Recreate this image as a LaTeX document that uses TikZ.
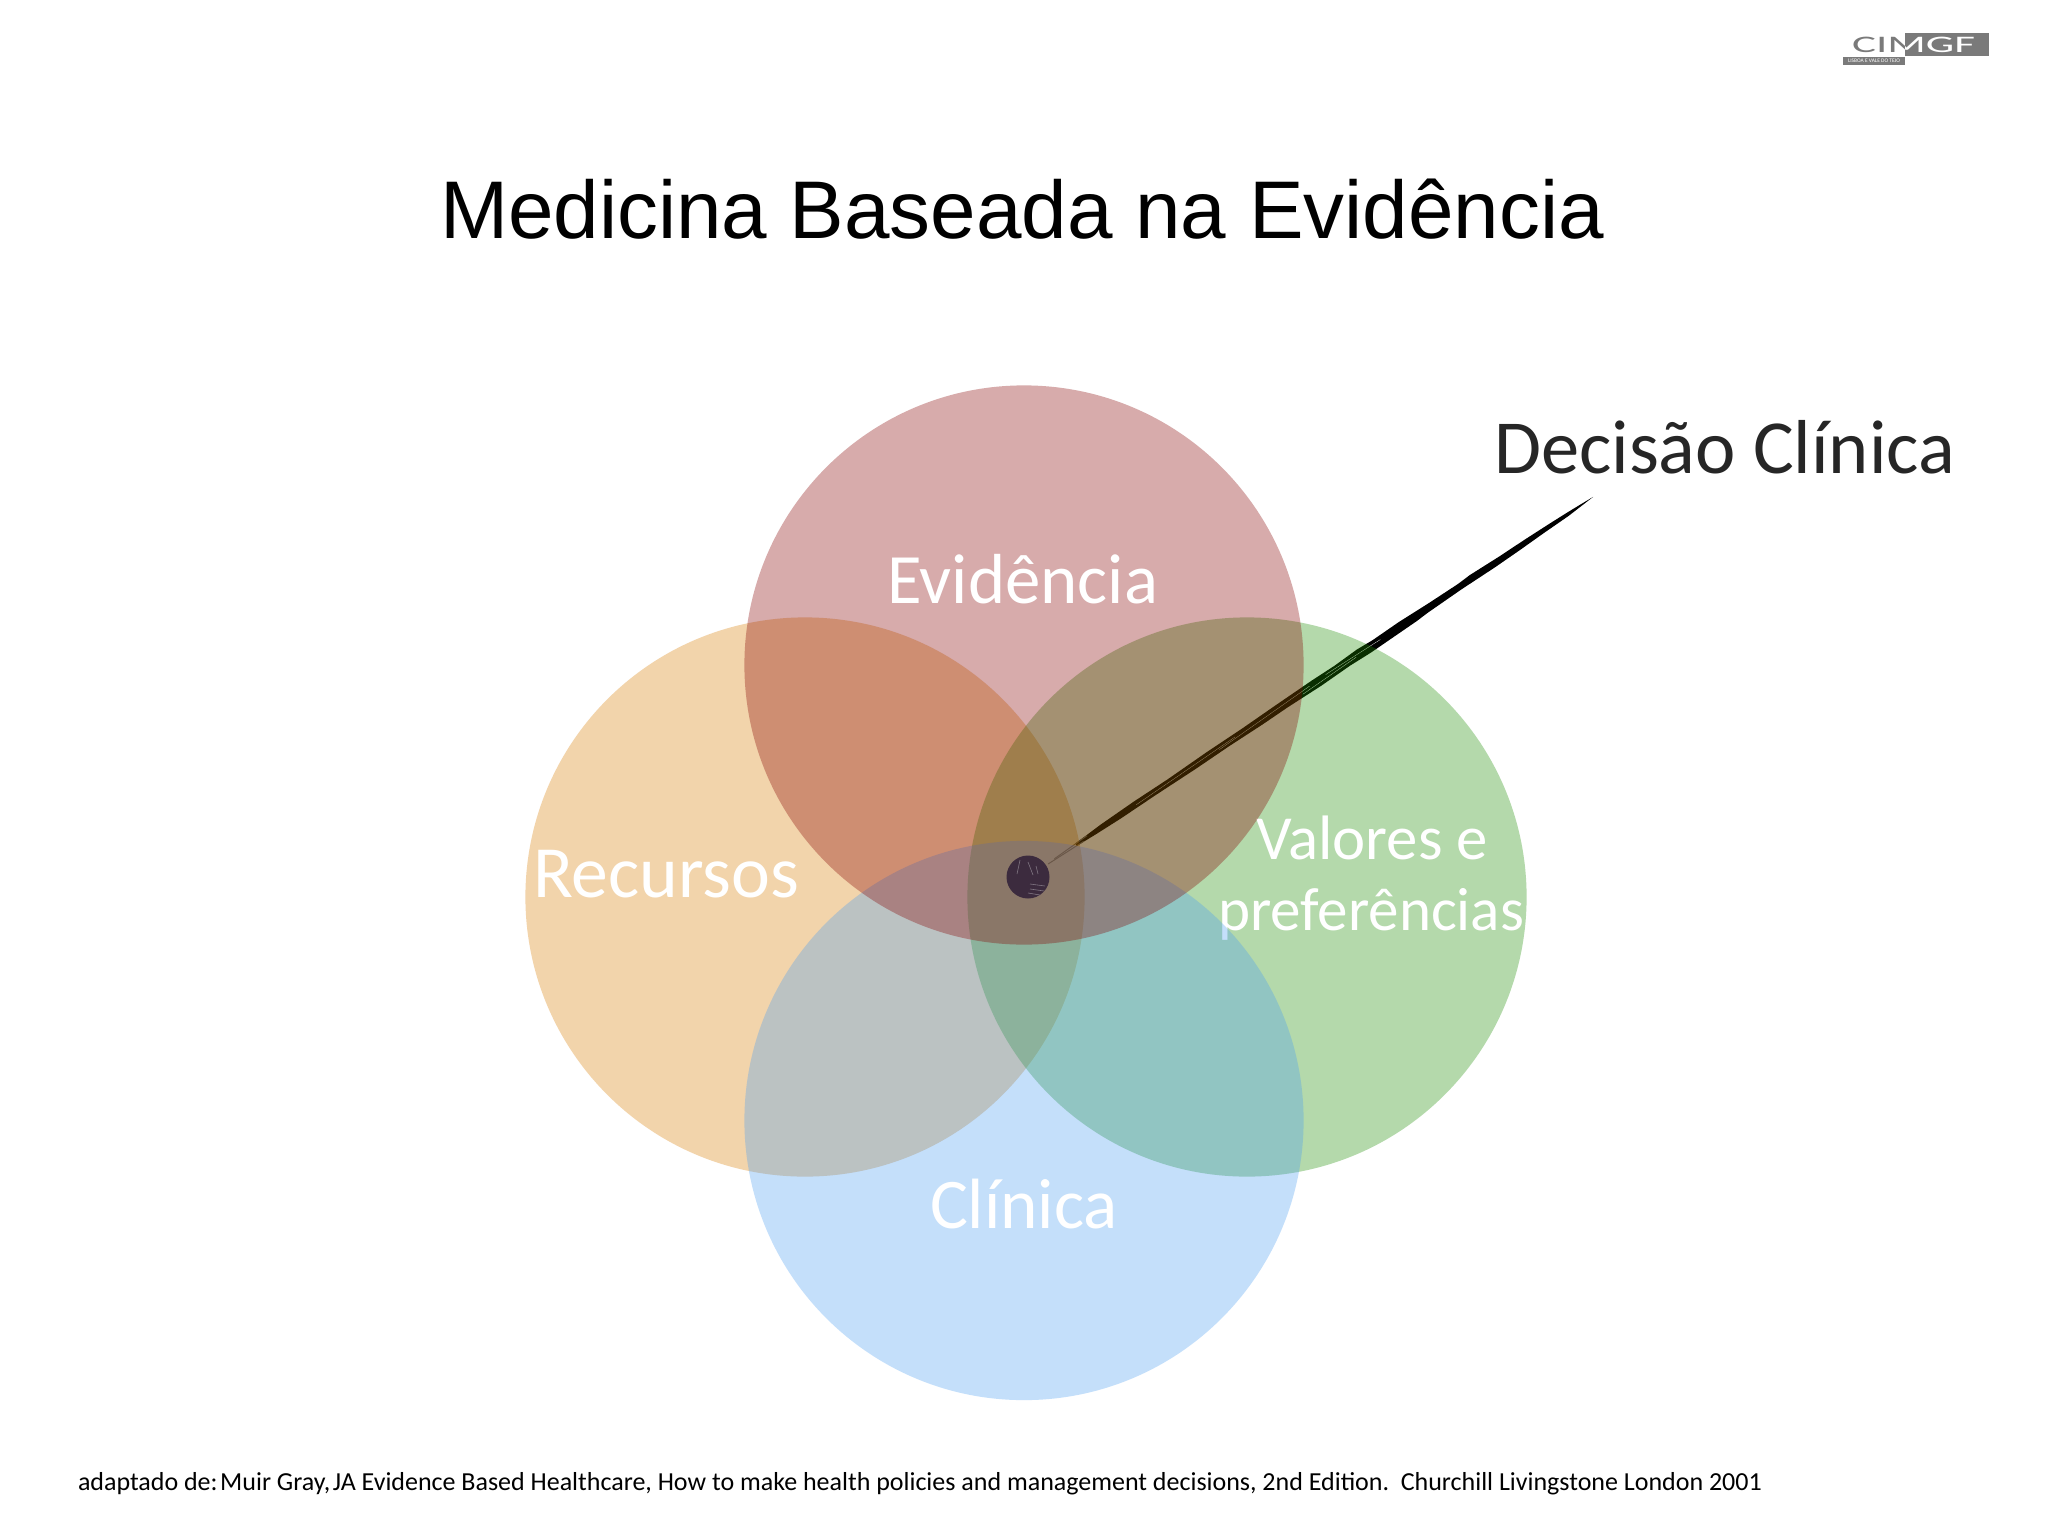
\documentclass[tikz,border=0pt]{standalone}
\usepackage{fontspec}
\usepackage{graphicx}
\setmainfont{Carlito}
\newfontfamily\titlefont{Liberation Sans}
\newcommand\fitw[2]{\resizebox{\dimexpr #1pt/2\relax}{!}{#2}}
\definecolor{cred}{HTML}{860000}
\definecolor{corange}{HTML}{D87D00}
\definecolor{cgreen}{HTML}{1E8E00}
\definecolor{cblue}{HTML}{4C9EF2}
\definecolor{logogray}{HTML}{7A7A7A}
\definecolor{dotcol}{HTML}{3C2B3E}
\tikzset{
  venn/.style={circle,minimum size=279.6pt,inner sep=0pt,fill opacity=0.33,draw=none},
  lab/.style={anchor=base west,inner sep=0pt,outer sep=0pt},
  inside/.style={lab,text=white},
  streak/.style={white!35!dotcol,line width=0.3pt},
}
\begin{document}
\begin{tikzpicture}[x=0.5pt,y=-0.5pt]
\useasboundingbox (0,0) rectangle (2048,1536);
\fill[white] (0,0) rectangle (2048,1536);

\coordinate (dotc) at (1028,877);
\coordinate (tip) at (1593,497);
% brush stroke lies under the translucent circles
\begin{scope}[shift={(dotc)},rotate=33.9]
  \fill[black] (58,-1.4) -- (90,-3) -- (130,-3.6) -- (170,-3.2) -- (220,-4) -- (260,-3.8) -- (300,-4.4)
     -- (345,-4.8) -- (372,-4.4) -- (400,-5.4) -- (418,-4.4) -- (450,-4.8) -- (485,-3.8) -- (520,-3.4)
     -- (535,-4.2) -- (570,-3.2) -- (600,-3) -- (630,-2.4) -- (650,-1.8) -- (668,-1) -- (681,-0.3)
     -- (650,1.8) -- (620,2.2) -- (590,3) -- (560,3.4) -- (520,3) -- (480,3.6) -- (465,4.4) -- (410,5)
     -- (385,4.2) -- (350,4.8) -- (310,4) -- (280,4.2) -- (240,3.6) -- (200,3.8) -- (150,3.2)
     -- (110,3.2) -- (80,2.4) -- (58,1.4) -- cycle;
  \draw[black!60,line width=0.5pt] (24,0.4) -- (66,1.4);
  \draw[black!60,line width=0.5pt] (32,-0.4) -- (72,-1.4);
  \draw[white,line width=0.12pt] (130,0.4) -- (250,-0.8);
  \draw[white,line width=0.12pt] (230,1) -- (340,-1.4);
  \draw[white,line width=0.12pt] (330,1.6) -- (395,0.6);
  \draw[white,line width=0.12pt] (360,-2) -- (425,-0.6);
\end{scope}

% circles
\node[venn,fill=corange] (recursos) at (805,897) {};
\node[venn,fill=cgreen] (valores) at (1247,897) {};
\node[inside] (tvalores) at (1256,859) {\fitw{232}{Valores e}};
\node[inside] (tpref) at (1218,930) {\fitw{306}{preferências}};
\node[venn,fill=cblue] (clinica) at (1024,1120.5) {};
\node[venn,fill=cred] (evidencia) at (1024,665) {};

% dot
\node[circle,minimum size=21.5pt,inner sep=0pt,fill=dotcol] (dot) at (dotc) {};
\draw[streak] (1020,860) -- (1017,874);
\draw[streak] (1028,862) -- (1033,875);
\draw[streak] (1036,866) -- (1038,874);
\draw[streak] (1030,884) -- (1045,886);
\draw[streak] (1030,889) -- (1044,891);
\draw[streak] (1028,893) -- (1040,895);

% labels
\node[lab] (title) at (440,238) {\fitw{1164}{\titlefont Medicina Baseada na Evidência}};
\node[lab,text=black!85] (decisao) at (1494,473) {\fitw{461}{Decisão Clínica}};
\node[inside] (tevid) at (887,603) {\fitw{271}{Evidência}};
\node[inside] (trec) at (533,897) {\fitw{266}{Recursos}};
\node[inside] (tclin) at (930,1228) {\fitw{188}{Clínica}};
\node[lab] (foot) at (78,1490) {\fitw{1684}{adaptado de:\kern0.1em Muir Gray,\kern0.1em JA Evidence Based Healthcare, How to make health policies and management decisions, 2nd Edition.\ \ Churchill Livingstone London 2001}};

% logo
\node[lab,text=logogray] (logo) at (1852,53) {\fitw{123}{\scalebox{1.9}[1]{CIMGF}}};
\begin{scope}
  \clip (1905,33) rectangle (1989,56);
  \fill[logogray] (1905,33) rectangle (1989,56);
  \node[lab,text=white] (logob) at (1852,53) {\fitw{123}{\scalebox{1.9}[1]{CIMGF}}};
\end{scope}
\fill[logogray] (1843,57) rectangle (1905,65);
\node[inside,anchor=center] (logosub) at (1874,61) {\fitw{52}{LISBOA E VALE DO TEJO}};
\end{tikzpicture}
\end{document}
